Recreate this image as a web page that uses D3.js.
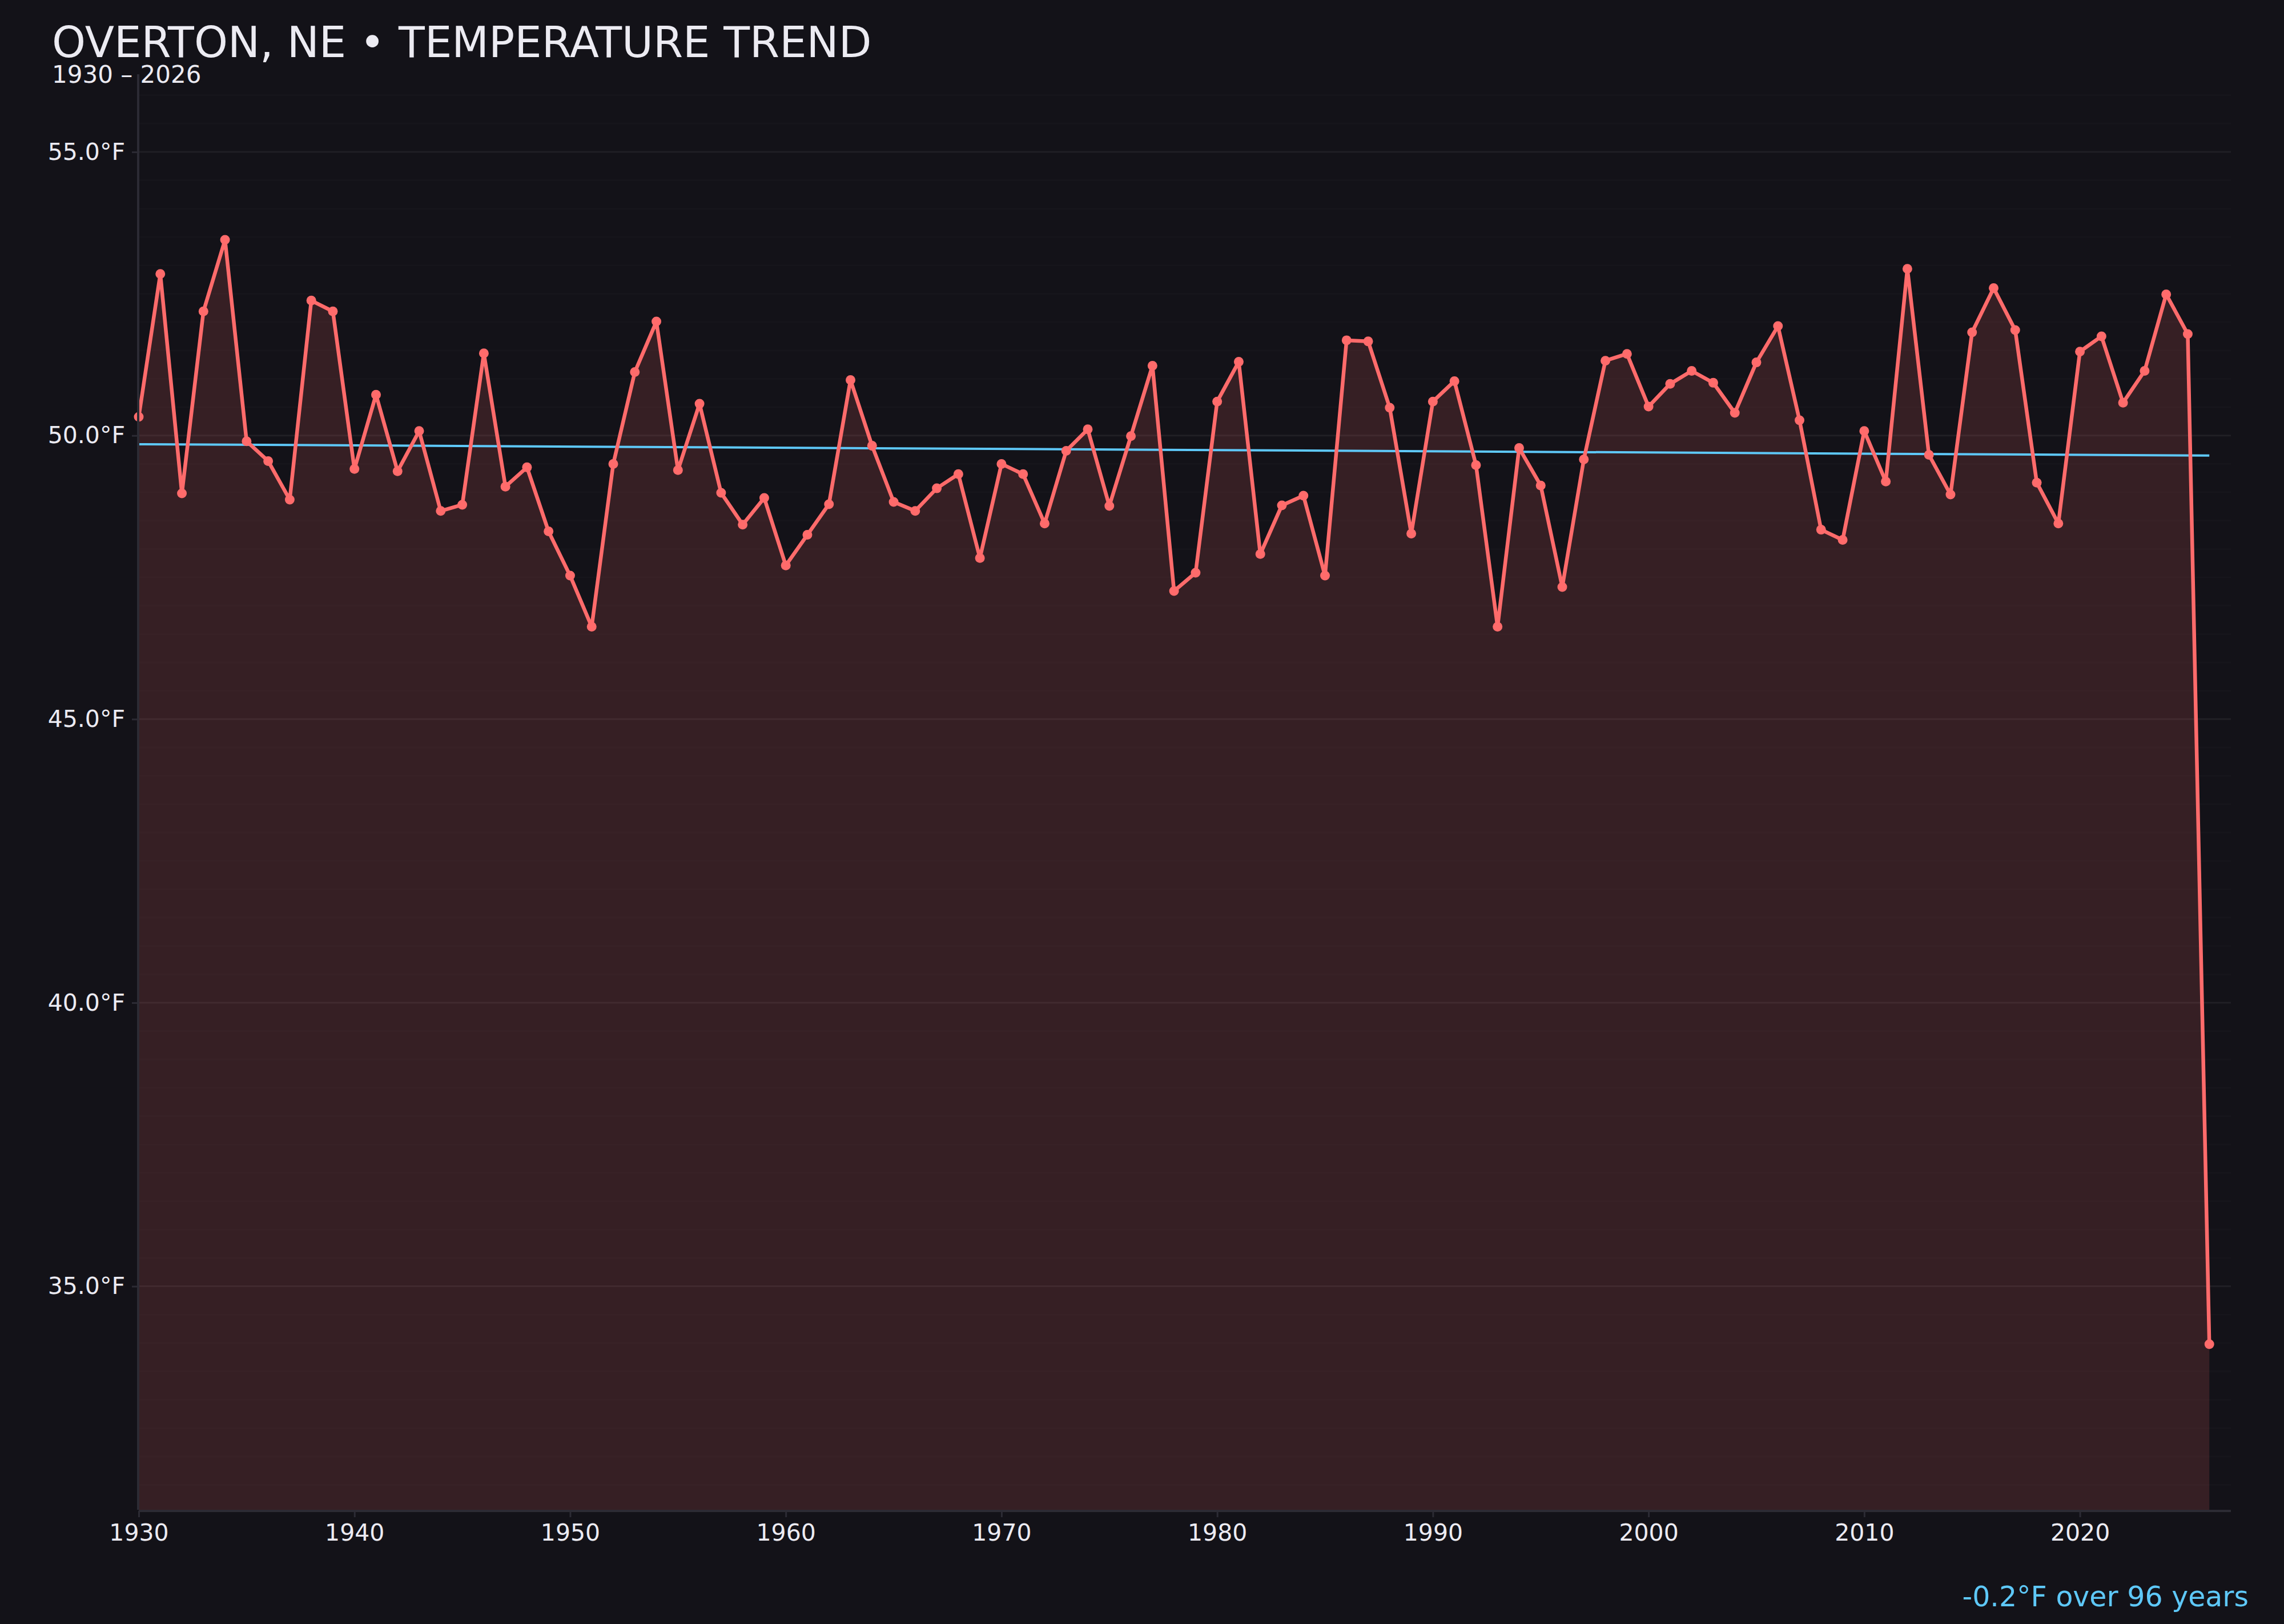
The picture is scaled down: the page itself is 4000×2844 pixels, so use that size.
<!DOCTYPE html>
<html>
<head>
<meta charset="utf-8">
<script src="https://cdn.jsdelivr.net/npm/d3@7"></script>
<style>
  html, body { margin: 0; padding: 0; background: #131218; }
  svg { display: block; font-family: "DejaVu Sans", sans-serif; }
</style>
</head>
<body>
<svg id="chart"></svg>
<script>
// yearly mean temperature, Overton NE (last year is partial)
let years = [
  1930, 1931, 1932, 1933, 1934, 1935, 1936, 1937, 1938, 1939,
  1940, 1941, 1942, 1943, 1944, 1945, 1946, 1947, 1948, 1949,
  1950, 1951, 1952, 1953, 1954, 1955, 1956, 1957, 1958, 1959,
  1960, 1961, 1962, 1963, 1964, 1965, 1966, 1967, 1968, 1969,
  1970, 1971, 1972, 1973, 1974, 1975, 1976, 1977, 1978, 1979,
  1980, 1981, 1982, 1983, 1984, 1985, 1986, 1987, 1988, 1989,
  1990, 1991, 1992, 1993, 1994, 1995, 1996, 1997, 1998, 1999,
  2000, 2001, 2002, 2003, 2004, 2005, 2006, 2007, 2008, 2009,
  2010, 2011, 2012, 2013, 2014, 2015, 2016, 2017, 2018, 2019,
  2020, 2021, 2022, 2023, 2024, 2025, 2026
];
let temps = [
  50.33, 52.85, 48.98, 52.19, 53.45, 49.90, 49.55, 48.87, 52.38, 52.19,
  49.41, 50.72, 49.37, 50.08, 48.67, 48.78, 51.45, 49.10, 49.44, 48.31,
  47.53, 46.63, 49.50, 51.12, 52.01, 49.39, 50.56, 48.99, 48.43, 48.90,
  47.71, 48.25, 48.79, 50.98, 49.82, 48.83, 48.67, 49.07, 49.32, 47.84,
  49.50, 49.32, 48.45, 49.73, 50.11, 48.76, 49.99, 51.23, 47.26, 47.58,
  50.60, 51.30, 47.91, 48.77, 48.94, 47.53, 51.68, 51.66, 50.49, 48.27,
  50.60, 50.96, 49.48, 46.63, 49.78, 49.12, 47.33, 49.58, 51.32, 51.44,
  50.51, 50.91, 51.14, 50.93, 50.40, 51.29, 51.93, 50.27, 48.34, 48.16,
  50.08, 49.19, 52.94, 49.66, 48.96, 51.82, 52.60, 51.86, 49.17, 48.45,
  51.48, 51.75, 50.58, 51.14, 52.49, 51.79, 33.98
];
let xTickVals = [1930, 1940, 1950, 1960, 1970, 1980, 1990, 2000, 2010, 2020];
let yTickVals = [35, 40, 45, 50, 55];

let width = 4000, height = 2844;
let margin = { top: 130, right: 93, bottom: 200, left: 243 };
let innerW = width - margin.left - margin.right;
let innerH = height - margin.top - margin.bottom;

let lineColor = "#ff6b6b", trendColor = "#5ec8f8", textColor = "#ecebf2";

let data = years.map(function(y, i) { return { year: y, temp: temps[i] }; });

// y range padded 15% of the spread on both sides
let lo = d3.min(temps), hi = d3.max(temps);
let pad = (hi - lo) * 0.15;

let x = d3.scaleLinear().domain([years[0], years[years.length - 1] + 1]).range([0, innerW]);
let y = d3.scaleLinear().domain([lo - pad, hi + pad]).range([innerH, 0]);

let svg = d3.select("#chart").attr("width", width).attr("height", height);
svg.append("rect").attr("width", width).attr("height", height).attr("fill", "#131218");

let g = svg.append("g").attr("transform", "translate(" + margin.left + "," + margin.top + ")");

// faint half-degree grid, a bit stronger on labelled ticks
let minor = d3.range(Math.ceil((lo - pad) * 2) / 2, hi + pad, 0.5);
g.append("g").selectAll("line").data(minor).enter().append("line")
  .attr("x1", 0).attr("x2", innerW)
  .attr("y1", d => y(d)).attr("y2", d => y(d))
  .attr("stroke", "#ffffff")
  .attr("stroke-opacity", d => (d % 5 === 0) ? 0.06 : 0.015)
  .attr("stroke-width", 3);

// area + line
let area = d3.area().x(d => x(d.year)).y0(innerH).y1(d => y(d.temp));
let line = d3.line().x(d => x(d.year)).y(d => y(d.temp));

g.append("path").datum(data).attr("d", area)
  .attr("fill", lineColor).attr("fill-opacity", 0.15);

// least squares trend over all years
let mx = d3.mean(data, d => d.year), my = d3.mean(data, d => d.temp);
let sxy = d3.sum(data, d => (d.year - mx) * (d.temp - my));
let sxx = d3.sum(data, d => (d.year - mx) * (d.year - mx));
let slope = sxy / sxx;
let trendAt = function(yr) { return my + slope * (yr - mx); };
let y0 = years[0], y1 = years[years.length - 1];

g.append("line")
  .attr("x1", x(y0)).attr("y1", y(trendAt(y0)))
  .attr("x2", x(y1)).attr("y2", y(trendAt(y1)))
  .attr("stroke", trendColor).attr("stroke-width", 4);

g.append("path").datum(data).attr("d", line)
  .attr("fill", "none").attr("stroke", lineColor)
  .attr("stroke-width", 6.5).attr("stroke-linejoin", "round");

g.selectAll("circle.pt").data(data).enter().append("circle")
  .attr("class", "pt")
  .attr("cx", d => x(d.year)).attr("cy", d => y(d.temp))
  .attr("r", 8.5).attr("fill", lineColor);

// axes
let xAxis = d3.axisBottom(x).tickValues(xTickVals).tickFormat(d3.format("d"))
  .tickSize(11).tickPadding(12);
let yAxis = d3.axisLeft(y).tickValues(yTickVals).tickFormat(d => d.toFixed(1) + "°F")
  .tickSize(11).tickPadding(12);

let gx = g.append("g").attr("transform", "translate(0," + (innerH + 2) + ")").call(xAxis);
let gy = g.append("g").attr("transform", "translate(-1,0)").call(yAxis);

[gx, gy].forEach(function(ax) {
  ax.select(".domain").attr("stroke", "#2c2b34").attr("stroke-width", 4);
  ax.selectAll(".tick line").attr("stroke", "#2c2b34").attr("stroke-width", 3);
  ax.selectAll(".tick text").attr("fill", textColor)
    .attr("font-family", "DejaVu Sans").attr("font-size", 41);
});
gy.select(".domain").attr("d", "M0,0V" + innerH);
gx.select(".domain").attr("d", "M0,0H" + innerW);

// titles
svg.append("text").attr("x", 91).attr("y", 100)
  .attr("fill", textColor).attr("font-size", 75)
  .text("OVERTON, NE \u2022 TEMPERATURE TREND");
svg.append("text").attr("x", 91).attr("y", 145)
  .attr("fill", textColor).attr("font-size", 42)
  .text(years[0] + " \u2013 " + years[years.length - 1]);

// trend note
let change = slope * (y1 - y0);
svg.append("text").attr("x", 3938).attr("y", 2813)
  .attr("text-anchor", "end").attr("fill", trendColor).attr("font-size", 49)
  .text((change >= 0 ? "+" : "") + change.toFixed(1) + "°F over " + (y1 - y0) + " years");
</script>
</body>
</html>
